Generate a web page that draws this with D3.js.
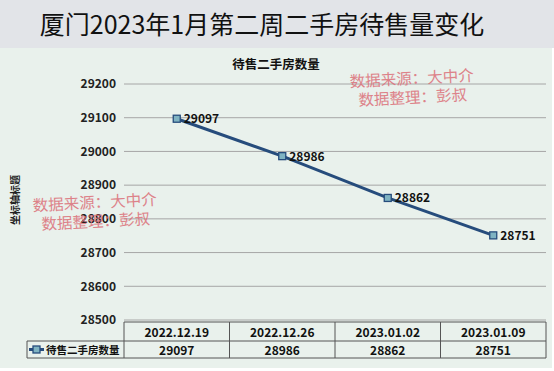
<!DOCTYPE html>
<html><head><meta charset="utf-8">
<script src="https://cdn.jsdelivr.net/npm/d3@7"></script>
<style>body{margin:0;background:#fff}svg{display:block}</style>
</head><body>
<script>
const categories = ["2022.12.19","2022.12.26","2023.01.02","2023.01.09"];
const values = [29097, 28986, 28862, 28751];
const yTicks = [28500,28600,28700,28800,28900,29000,29100,29200];
const seriesName = "待售二手房数量";
const title = "厦门2023年1月第二周二手房待售量变化";
const chartTitle = "待售二手房数量";
const yAxisTitle = "坐标轴标题";
const watermark = ["数据来源：大中介","数据整理：彭叔"];

(function(){
const W = 554, H = 371;
const svg = d3.select("body").append("svg").attr("width", W).attr("height", H);
const sans = "'Noto Sans CJK SC','Noto Sans',sans-serif";

svg.append("rect").attr("x",0).attr("y",0).attr("width",W).attr("height",H).attr("fill","#ffffff");
svg.append("rect").attr("x",0).attr("y",0).attr("width",W).attr("height",48).attr("fill","#e2e4e8");
svg.append("rect").attr("x",0).attr("y",48).attr("width",552).attr("height",320).attr("fill","#e9f1ec");

svg.append("text").attr("x",262).attr("y",34).attr("text-anchor","middle")
  .attr("font-family",sans).attr("font-size",25).attr("font-weight",400).attr("fill","#111")
  .text(title);

const pLeft = 124, pRight = 546, pTop = 84, pBottom = 320;
const x = d3.scaleBand().domain(categories).range([pLeft,pRight]);
const y = d3.scaleLinear().domain([28500,29200]).range([pBottom,pTop]);

svg.append("text").attr("x",276).attr("y",69).attr("text-anchor","middle")
  .attr("font-family",sans).attr("font-size",12.5).attr("font-weight",700).attr("fill","#111")
  .text(chartTitle);

svg.append("g").selectAll("line").data(yTicks).join("line")
  .attr("x1",pLeft).attr("x2",pRight).attr("y1",d=>y(d)).attr("y2",d=>y(d))
  .attr("stroke","#a6a6a6").attr("stroke-width",1);

const yAxis = d3.axisLeft(y).tickValues(yTicks).tickSize(0).tickPadding(8).tickFormat(d3.format("d"));
const ga = svg.append("g").attr("transform",`translate(${pLeft},0)`).call(yAxis);
ga.select(".domain").remove();
ga.selectAll("text").attr("font-family",sans).attr("font-size",12).attr("font-weight",700).attr("fill","#222");

svg.append("text").attr("transform","translate(19,200) rotate(-90)").attr("text-anchor","middle")
  .attr("font-family",sans).attr("font-size",10).attr("font-weight",700).attr("fill","#222")
  .text(yAxisTitle);

const pts = categories.map((c,i)=>({c,v:values[i]}));
const line = d3.line().x(d=>x(d.c)+x.bandwidth()/2).y(d=>y(d.v));
svg.append("path").datum(pts).attr("d",line).attr("fill","none").attr("stroke","#264c7c").attr("stroke-width",3);
svg.append("g").selectAll("rect").data(pts).join("rect")
  .attr("x",d=>x(d.c)+x.bandwidth()/2-3.5).attr("y",d=>y(d.v)-3.5).attr("width",7).attr("height",7)
  .attr("fill","#7fb3c2").attr("stroke","#264c7c").attr("stroke-width",1.3);
svg.append("g").selectAll("text").data(pts).join("text")
  .attr("x",d=>x(d.c)+x.bandwidth()/2+7).attr("y",d=>y(d.v)+4.5)
  .attr("font-family",sans).attr("font-size",12).attr("font-weight",700).attr("fill","#111")
  .text(d=>d.v);

const t1 = 322, t2 = 341, t3 = 358, legLeft = 27;
const tg = svg.append("g");
const stroke = "#555";
tg.append("line").attr("x1",pLeft).attr("x2",pRight).attr("y1",t1).attr("y2",t1).attr("stroke",stroke);
tg.append("line").attr("x1",legLeft).attr("x2",pRight).attr("y1",t2).attr("y2",t2).attr("stroke",stroke);
tg.append("line").attr("x1",legLeft).attr("x2",pRight).attr("y1",t3).attr("y2",t3).attr("stroke",stroke);
tg.append("line").attr("x1",legLeft).attr("x2",legLeft).attr("y1",t2).attr("y2",t3).attr("stroke",stroke);
const cols = categories.map(c=>x(c)).concat([pRight]);
tg.selectAll("line.v").data(cols).join("line").attr("class","v")
  .attr("x1",d=>d).attr("x2",d=>d).attr("y1",t1).attr("y2",t3).attr("stroke",stroke);
tg.selectAll("text.h").data(categories).join("text").attr("class","h")
  .attr("x",d=>x(d)+x.bandwidth()/2).attr("y",t1+14.5).attr("text-anchor","middle")
  .attr("font-family",sans).attr("font-size",12).attr("font-weight",700).attr("fill","#111").text(d=>d);
tg.selectAll("text.v").data(pts).join("text").attr("class","v")
  .attr("x",d=>x(d.c)+x.bandwidth()/2).attr("y",t2+13.5).attr("text-anchor","middle")
  .attr("font-family",sans).attr("font-size",12).attr("font-weight",700).attr("fill","#111").text(d=>d.v);
tg.append("line").attr("x1",29).attr("x2",44).attr("y1",(t2+t3)/2).attr("y2",(t2+t3)/2).attr("stroke","#264c7c").attr("stroke-width",3);
tg.append("rect").attr("x",33).attr("y",(t2+t3)/2-3.5).attr("width",7).attr("height",7)
  .attr("fill","#7fb3c2").attr("stroke","#264c7c").attr("stroke-width",1.3);
tg.append("text").attr("x",46).attr("y",t2+13).attr("font-family",sans).attr("font-size",10.5).attr("font-weight",700)
  .attr("fill","#111").text(seriesName);

const serif = "'Noto Sans CJK SC',serif";
function wm(cx, cy) {
  const g = svg.append("g").attr("transform",`translate(${cx},${cy}) rotate(-3)`);
  g.append("text").attr("x",0).attr("y",0).attr("text-anchor","middle")
    .attr("font-family",serif).attr("font-size",15.5).attr("fill","#dc6f78").attr("opacity",0.85).text(watermark[0]);
  g.append("text").attr("x",0).attr("y",19).attr("text-anchor","middle")
    .attr("font-family",serif).attr("font-size",15.5).attr("fill","#dc6f78").attr("opacity",0.85).text(watermark[1]);
}
wm(412, 84);
wm(95, 208);
})();
</script>
</body></html>
